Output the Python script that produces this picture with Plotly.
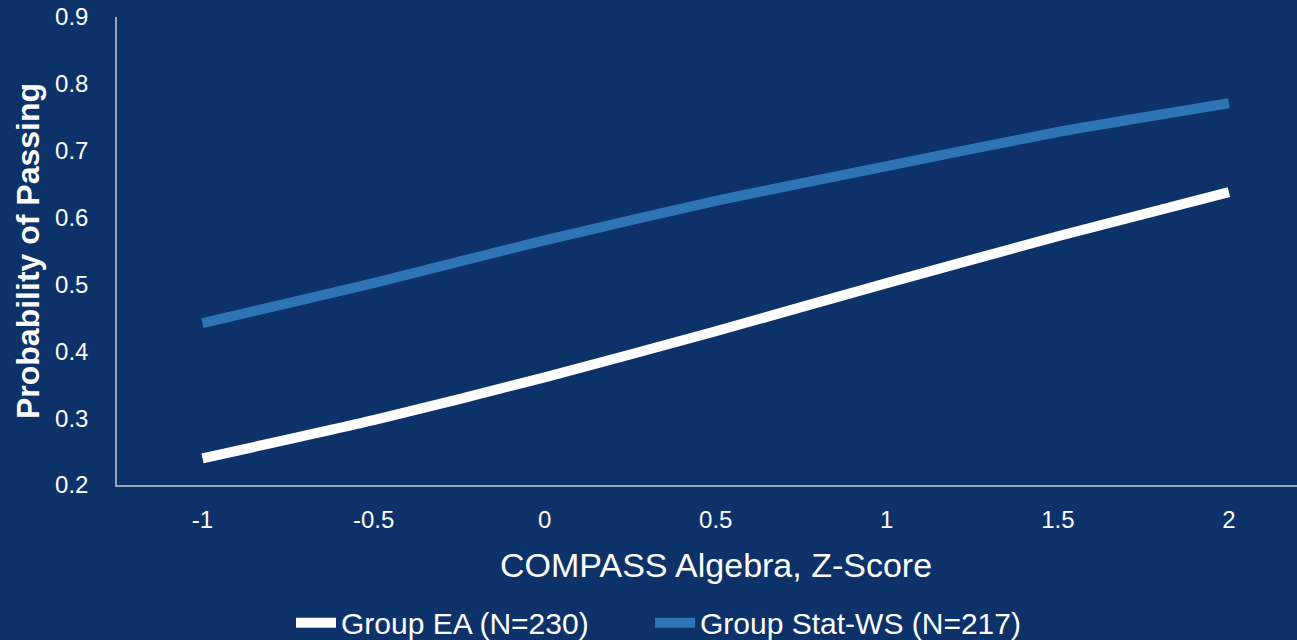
import plotly.graph_objects as go

z_scores = [-1, -0.5, 0, 0.5, 1, 1.5, 2]
group_ea = [0.240, 0.297, 0.361, 0.430, 0.502, 0.572, 0.638]
group_stat_ws = [0.442, 0.502, 0.566, 0.625, 0.677, 0.728, 0.771]
y_ticks = [0.2, 0.3, 0.4, 0.5, 0.6, 0.7, 0.8, 0.9]

BG = "#0d3169"
FONT = "Liberation Sans Narrow, Liberation Sans, Arial"

fig = go.Figure()
fig.add_trace(go.Scatter(
    x=z_scores, y=group_ea, mode="lines", name="Group EA (N=230)",
    line=dict(color="white", width=10, shape="spline", smoothing=0.6),
    legend="legend",
))
fig.add_trace(go.Scatter(
    x=z_scores, y=group_stat_ws, mode="lines", name="Group Stat-WS (N=217)",
    line=dict(color="#2e75b6", width=10, shape="spline", smoothing=0.6),
    legend="legend2",
))

leg_common = dict(
    orientation="h", xanchor="left",
    yref="container", y=0.027, yanchor="middle",
    font=dict(family=FONT, size=30, color="white"),
    bgcolor="rgba(0,0,0,0)", itemwidth=40,
)

fig.update_layout(
    width=1297, height=640,
    paper_bgcolor=BG, plot_bgcolor=BG,
    margin=dict(l=117, r=0, t=17, b=155),
    font=dict(family="Liberation Sans, Arial", color="white", size=20),
    showlegend=True,
    legend=dict(x=(291 - 117) / 1180, **leg_common),
    legend2=dict(x=(650 - 117) / 1180, **leg_common),
    xaxis=dict(
        range=[-1.25, 2.199], tickvals=z_scores,
        ticktext=[str(v) for v in z_scores],
        showgrid=False, zeroline=False, showline=True,
        linecolor="#9aa5b8", linewidth=1.5, ticks="", ticklabelstandoff=12,
        tickfont=dict(size=24, color="white"),
    ),
    yaxis=dict(
        range=[0.2, 0.9], tickvals=y_ticks,
        ticktext=[f"{v:.1f}" for v in y_ticks],
        showgrid=False, zeroline=False, showline=True,
        linecolor="#9aa5b8", linewidth=1.5, ticks="", ticklabelstandoff=22,
        tickfont=dict(size=24, color="white"),
        title=dict(text="<b>Probability of Passing</b>", standoff=6,
                   font=dict(family=FONT, size=32, color="white")),
    ),
    annotations=[dict(
        text="COMPASS Algebra, Z-Score", xref="x", x=0.5, yref="paper", y=-0.125,
        yanchor="top", showarrow=False,
        font=dict(family=FONT, size=34, color="white"),
    )],
)

fig.write_html(
    "out.html",
    config={"displayModeBar": False},
    post_script="document.body.style.margin='0';document.body.style.background='#0d3169';",
)
